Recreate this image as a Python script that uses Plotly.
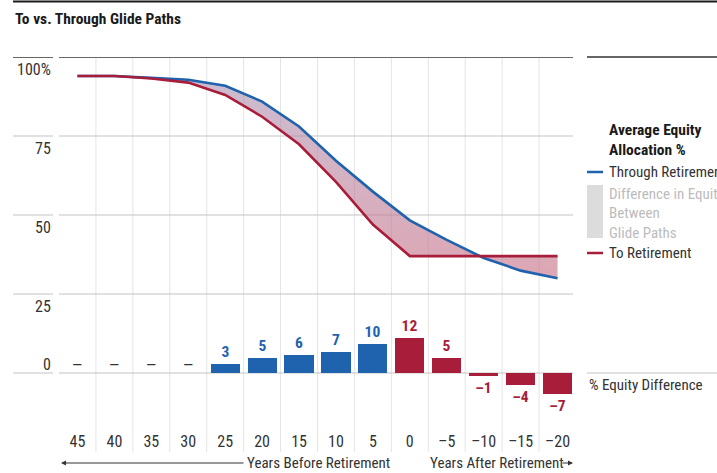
import plotly.graph_objects as go

# ---- data -------------------------------------------------------------
years = [45, 40, 35, 30, 25, 20, 15, 10, 5, 0, -5, -10, -15, -20]
tick_labels = [str(y) if y >= 0 else "–" + str(-y) for y in years]

through_retirement = [94.0, 94.0, 93.4, 92.8, 90.9, 85.9, 78.0, 67.2, 57.4, 48.3, 42.1, 36.4, 32.4, 30.0]
to_retirement = [94.0, 94.0, 93.2, 91.9, 88.0, 81.1, 72.4, 60.5, 47.0, 37.0, 37.0, 37.0, 37.0, 37.0]
equity_difference = [0, 0, 0, 0, 3, 5, 6, 7, 10, 12, 5, -1, -4, -7]

y_ticks = [0, 25, 50, 75, 100]

# ---- styling ----------------------------------------------------------
FONT = "Liberation Sans Narrow, Arial Narrow, Roboto Condensed, sans-serif"
BLUE = "#1f62ad"
RED = "#a81d3a"
DARK = "#333333"
GRID = "#c4c4c4"
VGRID = "#e4e4e4"

W, H = 717, 473
PL, PR, PT, PB = 59, 576, 57, 430          # plot area in pixels
LINE_PX = 3.16                               # pixels per % for glide paths
BAR_PX = 2.95                                # pixels per % for difference bars
ZERO_PX = 373                                # pixel row of the 0 line


def fx(px):
    return (px - PL) / (PR - PL)


def fy(py):
    return (PB - py) / (PB - PT)


xs = list(range(len(years)))

fig = go.Figure()

# glide paths with the shaded gap between them
fig.add_trace(go.Scatter(
    x=xs, y=through_retirement, mode="lines",
    line=dict(color=BLUE, width=2.6), hoverinfo="skip", showlegend=False,
))
fig.add_trace(go.Scatter(
    x=xs, y=to_retirement, mode="lines", fill="tonexty",
    fillgradient=dict(
        type="vertical", start=30, stop=94,
        colorscale=[[0, "rgba(200,112,134,0.62)"], [1, "rgba(172,148,180,0.62)"]],
    ),
    line=dict(color=RED, width=2.6), hoverinfo="skip", showlegend=False,
))

# difference bars
bar_colors = [BLUE if y > 0 else RED for y in years]
bar_text = ["" if v == 0 else (str(v) if v > 0 else "–" + str(-v)) for v in equity_difference]

fig.add_trace(go.Bar(
    x=xs, y=equity_difference, yaxis="y2", width=0.79,
    marker=dict(color=bar_colors, line=dict(width=0)),
    text=bar_text, textposition="outside", cliponaxis=False,
    textfont=dict(family=FONT, size=15.5, color=bar_colors, weight="bold"),
    hoverinfo="skip", showlegend=False,
))

shapes = []
annotations = []

# zero-difference markers sit on the baseline
for x, v in zip(xs, equity_difference):
    if v == 0:
        annotations.append(dict(
            text="—", xref="x", yref="y2", x=x, y=v, yanchor="middle", yshift=8,
            showarrow=False, font=dict(family=FONT, size=15, color=DARK),
        ))

# vertical separators between year columns
for i in range(len(years) - 1):
    shapes.append(dict(type="line", xref="x", yref="paper", x0=i + 0.5, x1=i + 0.5,
                       y0=fy(452), y1=1, line=dict(color=VGRID, width=1), layer="below"))

# horizontal rules and y labels
for v in y_ticks:
    col = "#666666" if v == 100 else GRID
    wid = 1.8 if v == 100 else 1.2
    for a, b in [(13, 53), (59, 573)]:
        shapes.append(dict(type="line", xref="paper", yref="y", x0=fx(a), x1=fx(b),
                           y0=v, y1=v, line=dict(color=col, width=wid), layer="below"))
    annotations.append(dict(
        text="100%" if v == 100 else str(v), xref="paper", yref="y",
        x=fx(53), y=v, xanchor="right", yanchor="middle",
        yshift=9 if v == 0 else -12.5, showarrow=False,
        font=dict(family=FONT, size=16, color=DARK),
    ))

# right-hand panel rules
shapes.append(dict(type="line", xref="paper", yref="paper", x0=fx(587), x1=fx(717),
                   y0=1, y1=1, line=dict(color="#666666", width=1.8)))
shapes.append(dict(type="line", xref="paper", yref="paper", x0=fx(587), x1=fx(717),
                   y0=fy(ZERO_PX), y1=fy(ZERO_PX), line=dict(color=GRID, width=1.2)))
# header rule
shapes.append(dict(type="line", xref="paper", yref="paper", x0=fx(13), x1=fx(720),
                   y0=fy(1.5), y1=fy(1.5), line=dict(color="#1a1a1a", width=2)))

annotations.append(dict(
    text="<b>To vs. Through Glide Paths</b>", xref="paper", yref="paper",
    x=fx(13), y=fy(19), xanchor="left", yanchor="middle", showarrow=False,
    font=dict(family=FONT, size=15.5, color="#1a1a1a"),
))

# legend block
annotations.append(dict(
    text="<b>Average Equity<br>Allocation %</b>", xref="paper", yref="paper",
    x=fx(607), y=fy(140), xanchor="left", yanchor="middle", align="left",
    showarrow=False, font=dict(family=FONT, size=15.5, color="#1a1a1a"),
))
shapes.append(dict(type="line", xref="paper", yref="paper", x0=fx(587), x1=fx(603),
                   y0=fy(172), y1=fy(172), line=dict(color=BLUE, width=2.5)))
annotations.append(dict(
    text="Through Retirement", xref="paper", yref="paper", x=fx(607), y=fy(172),
    xanchor="left", yanchor="middle", showarrow=False,
    font=dict(family=FONT, size=15, color=DARK),
))
shapes.append(dict(type="rect", xref="paper", yref="paper", x0=fx(587), x1=fx(603),
                   y0=fy(238), y1=fy(185), fillcolor="#dcdcdc", line=dict(width=0)))
for txt, py in [("Difference in Equity", 194), ("Between", 213), ("Glide Paths", 233)]:
    annotations.append(dict(
        text=txt, xref="paper", yref="paper", x=fx(607), y=fy(py),
        xanchor="left", yanchor="middle", showarrow=False,
        font=dict(family=FONT, size=15, color="#bcbcbc"),
    ))
shapes.append(dict(type="line", xref="paper", yref="paper", x0=fx(587), x1=fx(603),
                   y0=fy(253), y1=fy(253), line=dict(color=RED, width=2.5)))
annotations.append(dict(
    text="To Retirement", xref="paper", yref="paper", x=fx(607), y=fy(253),
    xanchor="left", yanchor="middle", showarrow=False,
    font=dict(family=FONT, size=15, color=DARK),
))
annotations.append(dict(
    text="% Equity Difference", xref="paper", yref="paper", x=fx(587), y=fy(385),
    xanchor="left", yanchor="middle", showarrow=False,
    font=dict(family=FONT, size=15, color=DARK),
))

# timeline captions with arrows
annotations.append(dict(
    text="Years Before Retirement", xref="paper", yref="paper", x=fx(392), y=fy(463),
    xanchor="right", yanchor="middle", showarrow=False,
    font=dict(family=FONT, size=15, color=DARK),
))
annotations.append(dict(
    text="Years After Retirement", xref="paper", yref="paper", x=fx(428), y=fy(463),
    xanchor="left", yanchor="middle", showarrow=False,
    font=dict(family=FONT, size=15, color=DARK),
))
annotations.append(dict(
    text="", xref="paper", yref="paper", x=fx(61), y=fy(463), ax=184, ay=0,
    showarrow=True, arrowhead=2, arrowsize=1, arrowwidth=1, arrowcolor=DARK,
))
annotations.append(dict(
    text="", xref="paper", yref="paper", x=fx(573), y=fy(463), ax=-12, ay=0,
    showarrow=True, arrowhead=2, arrowsize=1, arrowwidth=1, arrowcolor=DARK,
))

y_lo = 100 - (PB - PT) / LINE_PX
fig.update_layout(
    width=W, height=H,
    margin=dict(l=PL, r=W - PR, t=PT, b=H - PB, pad=0),
    paper_bgcolor="white", plot_bgcolor="white",
    font=dict(family=FONT, size=15.5, color=DARK),
    showlegend=False,
    bargap=0,
    xaxis=dict(
        range=[-0.5, len(years) - 0.5], tickmode="array", tickvals=xs, ticktext=tick_labels,
        showgrid=False, zeroline=False, showline=False, ticks="",
        tickfont=dict(family=FONT, size=16, color=DARK), fixedrange=True,
    ),
    yaxis=dict(range=[y_lo, 100], visible=False, fixedrange=True),
    yaxis2=dict(range=[-(PB - ZERO_PX) / BAR_PX, (ZERO_PX - PT) / BAR_PX],
                overlaying="y", visible=False, fixedrange=True),
    shapes=shapes,
    annotations=annotations,
)

fig.write_html("out.html")
